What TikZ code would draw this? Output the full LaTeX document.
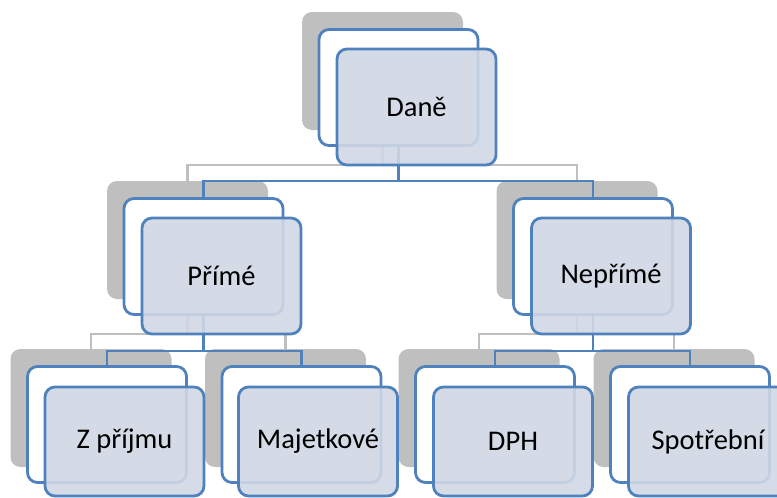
\documentclass[tikz,border=0pt]{standalone}
\usepackage{fontspec}
\setmainfont{Carlito}
\definecolor{boxgray}{HTML}{BFBFBF}
\definecolor{boxblue}{HTML}{4F81BD}
\definecolor{bluefill}{HTML}{D0D8E5}
\begin{document}
\begin{tikzpicture}[x=1pt,y=-1pt,
  graybox/.style={fill=boxgray,draw=none,rounded corners=10pt,minimum width=161pt,minimum height=118pt,inner sep=0pt,outer sep=0pt},
  whitebox/.style={fill=white,draw=boxblue,line width=2.8pt,rounded corners=10pt,minimum width=159pt,minimum height=116pt,inner sep=0pt,outer sep=0pt},
  bluebox/.style={fill=bluefill,fill opacity=0.9,text opacity=1,draw=boxblue,draw opacity=1,line width=2.8pt,rounded corners=10pt,minimum width=159pt,minimum height=116pt,inner sep=0pt,outer sep=0pt,font=\fontsize{28.5}{34}\selectfont},
  lowblue/.style={bluebox,minimum height=109pt},
  grayline/.style={draw=boxgray,line width=2.5pt},
  blueline/.style={draw=boxblue,line width=2.8pt}
]
\useasboundingbox (0,0) rectangle (777,498);
\clip (0,0) rectangle (777,498);
% gray layer
\node[graybox] (gD) at (382.5,71) {};
\node[graybox] (gP) at (187.5,240) {};
\node[graybox] (gN) at (577,240) {};
\node[graybox] (gZ) at (91,408) {};
\node[graybox] (gM) at (285.5,408) {};
\node[graybox] (gH) at (479,408) {};
\node[graybox] (gS) at (674,408) {};
\coordinate (gb1) at (382.5,165);
\coordinate (gb2) at (187.5,334);
\coordinate (gb3) at (577,334);
\draw[grayline] (gD.south) -- (gb1) -| (gP.north);
\draw[grayline] (gb1) -| (gN.north);
\draw[grayline] (gP.south) -- (gb2) -| (gZ.north);
\draw[grayline] (gb2) -| (gM.north);
\draw[grayline] (gN.south) -- (gb3) -| (gH.north);
\draw[grayline] (gb3) -| (gS.north);
% white layer
\node[whitebox] (wD) at (398.5,87.5) {};
\node[whitebox] (wP) at (203.5,256.5) {};
\node[whitebox] (wN) at (593,256.5) {};
\node[whitebox] (wZ) at (107,424.5) {};
\node[whitebox] (wM) at (301.5,424.5) {};
\node[whitebox] (wH) at (495,424.5) {};
\node[whitebox] (wS) at (690,424.5) {};
\coordinate (wb1) at (398.5,181);
\coordinate (wb2) at (203.5,351);
\coordinate (wb3) at (593,351);
\draw[blueline] (wD.south) -- (wb1) -| (wP.north);
\draw[blueline] (wb1) -| (wN.north);
\draw[blueline] (wP.south) -- (wb2) -| (wZ.north);
\draw[blueline] (wb2) -| (wM.north);
\draw[blueline] (wN.south) -- (wb3) -| (wH.north);
\draw[blueline] (wb3) -| (wS.north);
% blue layer
\node[bluebox] (bD) at (416.5,107) {Daně};
\node[bluebox] (bP) at (221.5,276) {Přímé};
\node[bluebox] (bN) at (611,276) {Nepřímé};
\node[lowblue] (bZ) at (124.5,441.5) {Z příjmu};
\node[lowblue] (bM) at (318,441.5) {Majetkové};
\node[lowblue] (bH) at (513,441.5) {DPH};
\node[lowblue] (bS) at (708,441.5) {Spotřební};
\end{tikzpicture}
\end{document}
